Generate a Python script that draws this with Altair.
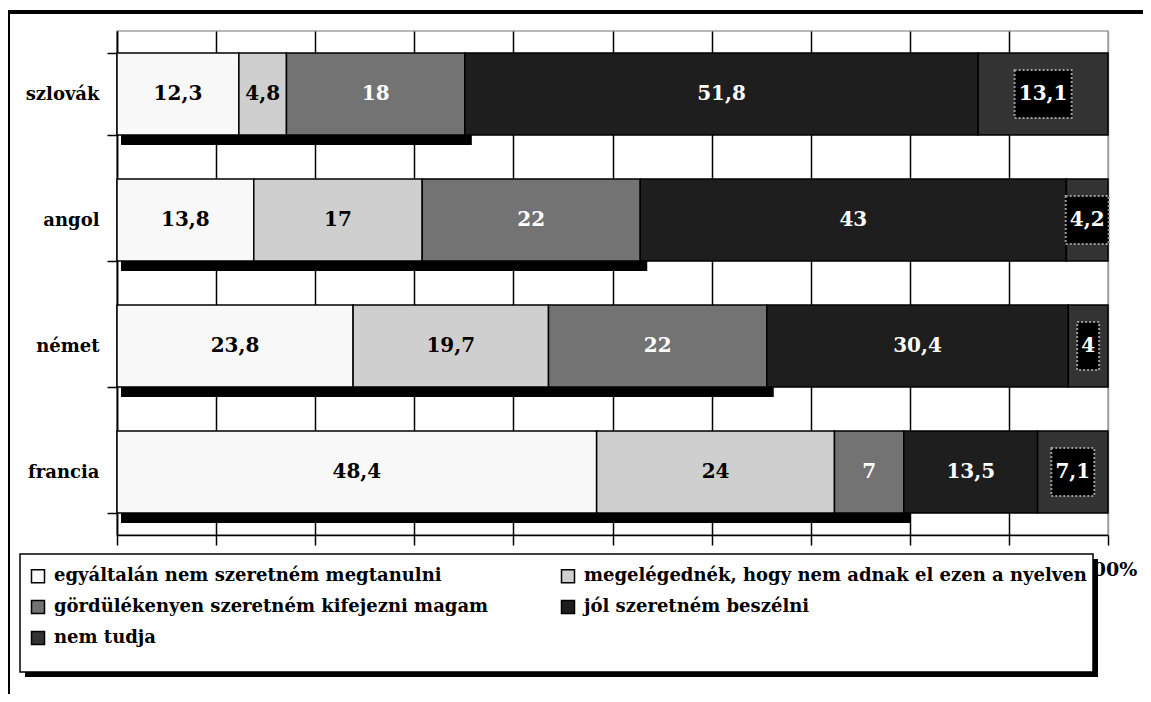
import altair as alt
import pandas as pd

categories = ["szlovák", "angol", "német", "francia"]
series = [
    "egyáltalán nem szeretném megtanulni",
    "megelégednék, hogy nem adnak el ezen a nyelven",
    "gördülékenyen szeretném kifejezni magam",
    "jól szeretném beszélni",
    "nem tudja",
]
s1 = [12.3, 13.8, 23.8, 48.4]
s2 = [4.8, 17, 19.7, 24]
s3 = [18, 22, 22, 7]
s4 = [51.8, 43, 30.4, 13.5]
s5 = [13.1, 4.2, 4, 7.1]
colors = ["#f8f8f8", "#cfcfcf", "#737373", "#1e1e1e", "#333333"]
tick_values = [0, 0.1, 0.2, 0.3, 0.4, 0.5, 0.6, 0.7, 0.8, 0.9, 1.0]

# legend fills column by column: reorder so it reads row by row like the reference
legend_order = [0, 2, 4, 1, 3]
legend_domain = [series[k] for k in legend_order]
legend_range = [colors[k] for k in legend_order]

rows = []
for i, cat in enumerate(categories):
    for j, vals in enumerate([s1, s2, s3, s4, s5]):
        rows.append({"cat": cat, "series": series[j], "o": j, "v": vals[i]})
df = pd.DataFrame(rows)

W, H = 991, 504
FONT = "DejaVu Serif"

xscale = alt.Scale(domain=[0, 1], nice=False, zero=True)
yscale = alt.Scale(domain=categories, paddingInner=0.35, paddingOuter=0.175)

base = (
    alt.Chart(df)
    .transform_stack(
        stack="v",
        groupby=["cat"],
        as_=["x0", "x1"],
        offset="normalize",
        sort=[alt.SortField("o", order="ascending")],
    )
    .transform_calculate(
        mid="(datum.x0 + datum.x1) / 2",
        label="replace(toString(datum.v), '.', ',')",
        tcol="datum.o >= 2 ? 'white' : 'black'",
        z="0",
    )
)

yenc = alt.Y(
    "cat:N",
    scale=yscale,
    sort=categories,
    axis=alt.Axis(
        title=None,
        tickBand="extent",
        labelFont=FONT,
        labelFontWeight="bold",
        labelFontSize=18,
        labelColor="black",
        labelPadding=8,
        tickSize=10,
        tickColor="black",
        tickWidth=1.5,
        domainColor="black",
        domainWidth=1.5,
        grid=False,
    ),
)

xaxis = alt.Axis(
    title=None,
    values=tick_values,
    format=".0%",
    labelFont=FONT,
    labelFontWeight="bold",
    labelFontSize=19,
    labelColor="black",
    labelPadding=15,
    labelFlush=False,
    labelOverlap=False,
    tickSize=10,
    tickColor="black",
    tickWidth=1.5,
    domainColor="black",
    domainWidth=1.5,
    grid=True,
    gridColor=alt.condition("datum.value >= 1", alt.value("#a0a0a0"), alt.value("black")),
    gridWidth=1.5,
    gridOpacity=1,
)

shadow = (
    base.transform_filter("datum.o == 2")
    .mark_bar(color="black", xOffset=4, x2Offset=7, yOffset=10, y2Offset=10)
    .encode(x=alt.X("z:Q", scale=xscale, axis=xaxis), x2="x1:Q", y=yenc)
)

bars = base.mark_bar(stroke="black", strokeWidth=1.5).encode(
    x=alt.X("x0:Q", scale=xscale, axis=xaxis),
    x2="x1:Q",
    y=yenc,
    color=alt.Color(
        "series:N",
        scale=alt.Scale(domain=legend_domain, range=legend_range),
        legend=alt.Legend(
            title=None,
            orient="none",
            legendX=-88,
            legendY=536,
            columns=2,
            columnPadding=69,
            rowPadding=11,
            padding=0,
            labelFont=FONT,
            labelFontWeight="bold",
            labelFontSize=18,
            labelColor="black",
            labelOffset=7,
            labelLimit=700,
            symbolType="square",
            symbolSize=169,
            symbolStrokeColor="black",
            symbolStrokeWidth=1.5,
            symbolOpacity=1,
        ),
    ),
)

boxes = (
    base.transform_filter("datum.o == 4")
    .transform_calculate(
        nd="length(replace(datum.label, ',', ''))",
        nc="length(datum.label) - datum.nd",
        hw=f"(datum.nd * 14 + datum.nc * 7 + 8) / 2 / {W}",
        bx0="datum.mid - datum.hw",
        bx1="datum.mid + datum.hw",
    )
    .mark_bar(height=48, fill="black", stroke="#9a9a9a", strokeDash=[2, 2], strokeWidth=2)
    .encode(x=alt.X("bx0:Q", scale=xscale, axis=xaxis), x2="bx1:Q", y=yenc)
)

labels = base.mark_text(font=FONT, fontWeight="bold", fontSize=20, baseline="middle").encode(
    x=alt.X("mid:Q", scale=xscale, axis=xaxis),
    y=yenc,
    text="label:N",
    color=alt.Color("tcol:N", scale=None),
)

one = alt.Data(values=[{"a": 1}])
leg_shadow = alt.Chart(one).mark_rect(color="black").encode(
    x=alt.value(-92), x2=alt.value(981), y=alt.value(528), y2=alt.value(646)
)
leg_frame = alt.Chart(one).mark_rect(fill="white", stroke="black", strokeWidth=1.5).encode(
    x=alt.value(-97), x2=alt.value(976), y=alt.value(523), y2=alt.value(641)
)
outer_top = alt.Chart(one).mark_rule(color="black", strokeWidth=4).encode(
    x=alt.value(-112), x2=alt.value(1040), y=alt.value(-19)
)
outer_left = alt.Chart(one).mark_rule(color="black", strokeWidth=4).encode(
    x=alt.value(-109), y=alt.value(-21), y2=alt.value(680)
)

chart = (
    alt.layer(shadow, bars, boxes, labels, leg_shadow, leg_frame, outer_top, outer_left)
    .properties(
        width=W,
        height=H,
        padding={"left": 109, "top": 23, "right": 35, "bottom": 159},
        autosize=alt.AutoSizeParams(type="none"),
        background="white",
    )
    .configure_view(stroke="#a0a0a0", strokeWidth=1.5)
)

chart.save("out.html", embed_options={"renderer": "svg", "actions": False})
